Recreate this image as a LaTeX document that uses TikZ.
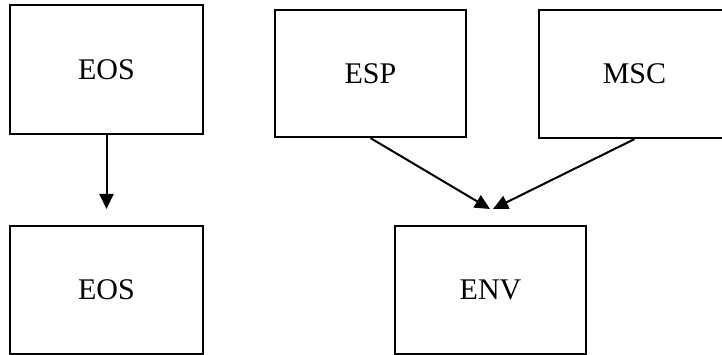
\documentclass[tikz,border=0pt]{standalone}
\usepackage{fontspec}
\setmainfont{Liberation Serif}
\usetikzlibrary{arrows.meta}
\begin{document}
\begin{tikzpicture}[x=1pt,y=1pt,
  box/.style={draw, line width=2.2pt, minimum width=191pt, minimum height=128pt, inner sep=0pt, font=\fontsize{30}{36}\selectfont},
  conn/.style={line width=2pt, -{Triangle[length=15pt,width=14pt]}}]
\useasboundingbox (0,0) rectangle (722,355);
\node[box, minimum width=193pt, minimum height=129pt] (eos1) at (106.5,285.5) {EOS};
\node[box, minimum width=193pt] (eos2) at (106.5,65) {EOS};
\node[box, minimum height=127pt] (esp) at (370.5,281.5) {ESP};
\node[box] (msc) at (634.5,281) {MSC};
\node[box] (env) at (490.5,65) {ENV};
\coordinate (t1) at (106.5,146);
\coordinate (t2) at (490,146);
\coordinate (t3) at (493,146);
\draw[conn] (eos1.south) -- (t1);
\draw[conn] (esp.south) -- (t2);
\draw[conn] (msc.south) -- (t3);
\end{tikzpicture}
\end{document}
